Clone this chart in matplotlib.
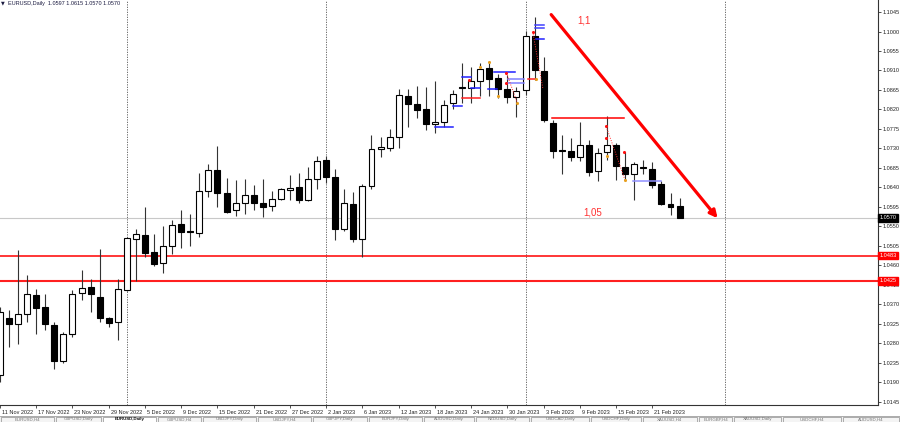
import matplotlib
matplotlib.use("Agg")
import matplotlib.pyplot as plt
import numpy as np
import pandas as pd
from matplotlib.transforms import ScaledTranslation, blended_transform_factory
from matplotlib.patches import Rectangle

plt.rcParams['font.family'] = ['Liberation Sans', 'DejaVu Sans']

# EURUSD daily, 11 Nov 2022 .. 24 Feb 2023
dates = pd.bdate_range('2022-11-11', '2023-02-24')
opens = [1.0207, 1.0338, 1.0326, 1.0348, 1.0392, 1.0364, 1.0323, 1.0239, 1.0303, 1.0396,
         1.0410, 1.0387, 1.0338, 1.0329, 1.0403, 1.0522, 1.0531, 1.0490, 1.0465, 1.0504,
         1.0555, 1.0540, 1.0534, 1.0632, 1.0680, 1.0627, 1.0588, 1.0604, 1.0622, 1.0604,
         1.0597, 1.0613, 1.0634, 1.0640, 1.0610, 1.0660, 1.0703, 1.0665, 1.0545, 1.0602,
         1.0520, 1.0643, 1.0729, 1.0731, 1.0756, 1.0851, 1.0832, 1.0821, 1.0787, 1.0792,
         1.0834, 1.0869, 1.0870, 1.0885, 1.0916, 1.0893, 1.0867, 1.0848, 1.0864, 1.0990,
         1.0908, 1.0789, 1.0726, 1.0724, 1.0710, 1.0739, 1.0677, 1.0722, 1.0737, 1.0687,
         1.0672, 1.0687, 1.0683, 1.0649, 1.0602, 1.0597]
highs = [1.0365, 1.0357, 1.0495, 1.0438, 1.0405, 1.0394, 1.0330, 1.0307, 1.0403, 1.0450,
         1.0429, 1.0497, 1.0342, 1.0428, 1.0525, 1.0544, 1.0594, 1.0533, 1.0550, 1.0565,
         1.0588, 1.0579, 1.0674, 1.0694, 1.0736, 1.0663, 1.0657, 1.0660, 1.0646, 1.0660,
         1.0633, 1.0638, 1.0669, 1.0673, 1.0688, 1.0713, 1.0713, 1.0683, 1.0636, 1.0630,
         1.0648, 1.0760, 1.0757, 1.0774, 1.0867, 1.0867, 1.0874, 1.0871, 1.0886, 1.0842,
         1.0865, 1.0927, 1.0918, 1.0927, 1.0931, 1.0902, 1.0900, 1.0871, 1.1002, 1.1033,
         1.0940, 1.0795, 1.0762, 1.0755, 1.0790, 1.0750, 1.0731, 1.0804, 1.0743, 1.0722,
         1.0699, 1.0704, 1.0699, 1.0654, 1.0627, 1.0615]
lows = [1.0190, 1.0272, 1.0279, 1.0329, 1.0303, 1.0311, 1.0221, 1.0236, 1.0294, 1.0380,
        1.0353, 1.0330, 1.0319, 1.0288, 1.0400, 1.0424, 1.0479, 1.0459, 1.0442, 1.0487,
        1.0500, 1.0504, 1.0526, 1.0617, 1.0596, 1.0582, 1.0575, 1.0578, 1.0588, 1.0573,
        1.0586, 1.0611, 1.0611, 1.0605, 1.0608, 1.0637, 1.0650, 1.0519, 1.0540, 1.0515,
        1.0480, 1.0637, 1.0710, 1.0725, 1.0730, 1.0780, 1.0800, 1.0773, 1.0765, 1.0780,
        1.0821, 1.0834, 1.0835, 1.0850, 1.0852, 1.0847, 1.0835, 1.0802, 1.0853, 1.0889,
        1.0791, 1.0708, 1.0670, 1.0700, 1.0700, 1.0666, 1.0656, 1.0704, 1.0658, 1.0654,
        1.0612, 1.0670, 1.0639, 1.0600, 1.0577, 1.0570]
closes = [1.0353, 1.0326, 1.0347, 1.0394, 1.0362, 1.0324, 1.0240, 1.0302, 1.0394, 1.0408,
          1.0395, 1.0338, 1.0328, 1.0405, 1.0523, 1.0532, 1.0489, 1.0464, 1.0504, 1.0553,
          1.0537, 1.0538, 1.0631, 1.0680, 1.0627, 1.0584, 1.0605, 1.0622, 1.0604, 1.0595,
          1.0614, 1.0636, 1.0639, 1.0610, 1.0660, 1.0702, 1.0665, 1.0545, 1.0604, 1.0520,
          1.0643, 1.0729, 1.0733, 1.0756, 1.0853, 1.0832, 1.0819, 1.0787, 1.0792, 1.0830,
          1.0856, 1.0872, 1.0885, 1.0913, 1.0890, 1.0867, 1.0849, 1.0862, 1.0989, 1.0910,
          1.0795, 1.0724, 1.0724, 1.0710, 1.0739, 1.0676, 1.0720, 1.0737, 1.0689, 1.0672,
          1.0695, 1.0685, 1.0646, 1.0603, 1.0596, 1.0570]

last_price = 1.0570
levels = [1.0483, 1.0425]
separators = [14, 36, 58, 80]
y_ticks = [1.0145 + 0.0045 * k for k in range(21)]

# indicator marks: (start bar, end bar, price, colour)
segments = [(48, 50, 1.0780, '#2020ff'), (50, 51, 1.0828, '#2020ff'), (51, 53, 1.0847, '#ff2020'),
            (51, 52, 1.0894, '#2020ff'), (52, 53, 1.0870, '#2020ff'), (53.9, 54.8, 1.0867, '#2020ff'),
            (54.5, 56.8, 1.0907, '#2020ff'), (56.1, 57.8, 1.0890, '#8080ff'), (56.1, 57.8, 1.0882, '#8080ff'),
            (58.3, 59, 1.0890, '#ff2020'), (59, 60, 1.1015, '#4040ff'), (59, 60, 1.1007, '#4040ff'),
            (59.2, 60, 1.0983, '#2020ff'), (60.9, 68.9, 1.0800, '#ff0000'), (69.9, 72.9, 1.0654, '#9090ff')]
red_dots_x = [58.82, 55.88, 55.88, 66.88, 66.88, 68.9, 51.8]
red_dots_y = [1.0999, 1.0904, 1.0881, 1.0781, 1.0754, 1.0722, 1.0889]
orange_dots_x = [54.0, 53.0, 54.97, 57.1, 59.2, 66.96, 68.97]
orange_dots_y = [1.0930, 1.0918, 1.0851, 1.0835, 1.0891, 1.0713, 1.0658]
dashed = [((55.9, 1.0904), (57.1, 1.0835)), ((58.8, 1.0999), (59.9, 1.0870)),
          ((66.9, 1.0781), (68.97, 1.0658))]

arrow_start = (60.83, 1.1039)
arrow_end = (79.2, 1.0569)

fig = plt.figure(figsize=(9, 4.22), dpi=100)
ax = fig.add_axes([0, 1 - 405 / 422, 878 / 900, 405 / 422])
ax.set_xlim(0.33, 96.9)
ax.set_ylim(1.01380, 1.10727)

idx = np.arange(len(opens))
o = np.array(opens); h = np.array(highs); l = np.array(lows); c = np.array(closes)
up = c >= o

# wicks + bodies
ax.vlines(idx, l, h, color='#333333', lw=0.8, zorder=3)
body_h = np.maximum(np.abs(c - o), 0.00004)
ax.bar(idx[up], body_h[up], bottom=np.minimum(o, c)[up], width=0.66,
       facecolor='white', edgecolor='black', lw=0.8, zorder=4)
ax.bar(idx[~up], body_h[~up], bottom=np.minimum(o, c)[~up], width=0.66,
       facecolor='black', edgecolor='black', lw=0.8, zorder=4)

# horizontal levels
ax.axhline(last_price, color='#c8c8c8', lw=0.8, zorder=1)
ax.axhline(levels[0], color='#ff0000', lw=1.1, zorder=2)
ax.axhline(levels[1], color='#ff2020', lw=1.5, zorder=2)
for s in separators:
    ax.axvline(s, color='#555555', lw=0.6, ls=(0, (1.5, 1.5)), zorder=1)

for x0, x1, p, col in segments:
    ax.plot([x0, x1], [p, p], color=col, lw=1.1, zorder=5)
for (xa, ya), (xb, yb) in dashed:
    ax.plot([xa, xb], [ya, yb], color='#ff3030', lw=0.7, ls=(0, (1, 1.5)), zorder=5)
ax.scatter(red_dots_x, red_dots_y, s=5, color='#ff1010', zorder=6, lw=0)
ax.scatter(orange_dots_x, orange_dots_y, s=5, color='#e8a020', zorder=6, lw=0)

ax.annotate('', xy=arrow_end, xytext=arrow_start,
            arrowprops=dict(arrowstyle='-|>', color='#ff0000', lw=2.3, mutation_scale=11, shrinkA=0, shrinkB=0))
ax.text(64.5, 1.1025, '1,1', color='#ff3030', fontsize=7, ha='center', va='center')
ax.text(65.45, 1.0583, '1,05', color='#ff3030', fontsize=7, ha='center', va='center')

# axes look
for sp in ['left', 'top']:
    ax.spines[sp].set_visible(False)
ax.spines['right'].set_color('#333333')
ax.spines['bottom'].set_color('#333333')
ax.spines['right'].set_linewidth(0.8)
ax.spines['bottom'].set_linewidth(0.8)
ax.yaxis.tick_right()
ax.set_yticks(y_ticks)
ax.set_yticklabels([f"{v:.4f}" for v in y_ticks], fontsize=4, color='#222222')
ax.tick_params(axis='y', length=2, width=0.6, pad=1.5, color='#333333')

xt = list(range(0, len(dates), 4))
ax.set_xticks(xt)
ax.set_xticklabels([f"{dates[i].day} {dates[i].strftime('%b %Y')}" for i in xt], fontsize=4, color='#222222')
ax.tick_params(axis='x', length=2.5, width=0.6, pad=1, color='#333333')
shift = ScaledTranslation(2 / 100, 0, fig.dpi_scale_trans)
for lab in ax.get_xticklabels():
    lab.set_horizontalalignment('left')
    lab.set_transform(lab.get_transform() + shift)

# price boxes on the right scale
tr = blended_transform_factory(ax.transAxes, ax.transData)
ax.text(1.002, last_price, f"{last_price:.4f}", transform=tr, fontsize=4, color='white', va='center', ha='left',
        bbox=dict(boxstyle='square,pad=0.25', fc='black', ec='black'), zorder=10, clip_on=False)
for lv in levels:
    ax.text(1.002, lv, f"{lv:.4f}", transform=tr, fontsize=4, color='white', va='center', ha='left',
            bbox=dict(boxstyle='square,pad=0.25', fc='#ff0000', ec='#ff0000'), zorder=10, clip_on=False)

# header
fig.text(1 / 900, 1 - 3 / 422, '▼', fontsize=3.5, color='#1a1a40', va='center', ha='left',
         family=['DejaVu Sans'])
fig.text(8 / 900, 1 - 3 / 422, 'EURUSD,Daily  1.0597 1.0615 1.0570 1.0570', fontsize=4,
         color='#1a1a40', va='center', ha='left')

# tab bar
tb = fig.add_axes([0, 0, 1, 6 / 422])
tb.set_xlim(0, 900)
tb.set_ylim(0, 6)
tb.axis('off')
tab_edges = [0, 55, 102, 157, 202, 257, 312, 368, 423, 475, 530, 590, 642, 698, 733, 782, 842, 900]
tab_names = ['EURUSD,H4', 'GBPUSD,Daily', 'EURUSD,Daily', 'GBPUSD,H4', 'USDJPY,Daily', 'USDJPY,H4',
             'GBPJPY,Daily', 'EURJPY,Daily', 'AUDUSD,Daily', 'NZDUSD,Daily', 'USDCAD,Daily',
             'USDCHF,Daily', 'XAUUSD,H4', 'EURGBP,H4', 'XAUUSD,Daily', 'USDCHF,H4', 'AUDUSD,H4']
tb.add_patch(Rectangle((0, 0), 900, 6, fc='#f0f0f0', ec='none'))
for k, name in enumerate(tab_names):
    a, b = tab_edges[k], tab_edges[k + 1]
    active = name == 'EURUSD,Daily'
    tb.add_patch(Rectangle((a + 1, 0), b - a - 2, 5.5, fc='white' if active else '#f4f4f4',
                           ec='#909090', lw=0.5))
    tb.text((a + b) / 2, 2.8, name, fontsize=3.2, ha='center', va='center',
            color='#111111' if active else '#777777', fontweight='bold' if active else 'normal')
tb.plot([0, 900], [5.9, 5.9], color='#a0a0a0', lw=0.6)

fig.savefig('out.png', dpi=100)
